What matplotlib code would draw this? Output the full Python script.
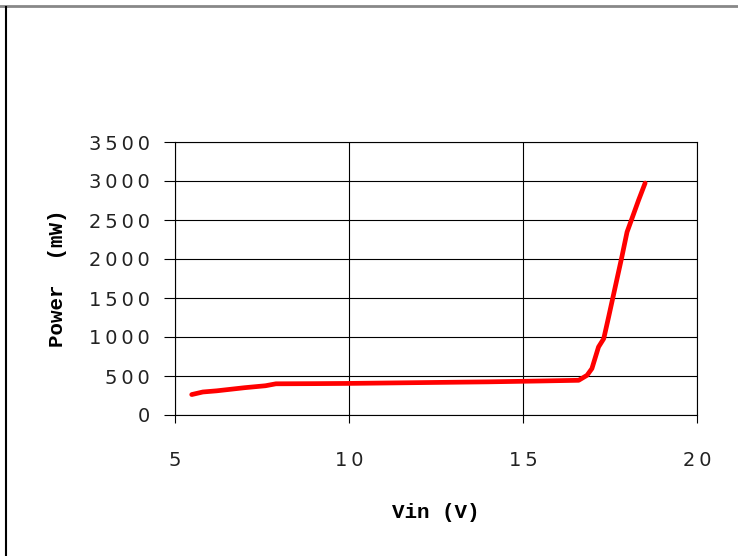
import matplotlib
matplotlib.use("Agg")
import matplotlib.pyplot as plt
from matplotlib.lines import Line2D

vin = [5.48, 5.8, 6.2, 7.0, 7.6, 7.9, 9.0, 10.0, 12.0, 14.0, 15.5, 16.6,
       16.84, 16.98, 17.17, 17.32, 17.46, 17.65, 17.84, 17.99, 18.13, 18.32, 18.51]
power = [262, 295, 310, 350, 375, 400, 402, 405, 415, 425, 436, 445,
         509, 595, 872, 979, 1256, 1641, 2026, 2346, 2518, 2753, 2974]

x_ticks = [5, 10, 15, 20]
y_ticks = [0, 500, 1000, 1500, 2000, 2500, 3000, 3500]

def spaced(v):
    return "\u2009".join(str(v))

W, H = 738, 556
fig = plt.figure(figsize=(W / 100, H / 100), dpi=100)
ax = fig.add_axes([175 / W, 1 - 415 / H, (697 - 175) / W, (415 - 142) / H])

ax.plot(vin, power, color="#ff0000", linewidth=3.4, solid_capstyle="round",
        solid_joinstyle="round", zorder=3)

ax.set_xlim(5, 20)
ax.set_ylim(0, 3500)
ax.set_xticks(x_ticks)
ax.set_yticks(y_ticks)
ax.set_xticklabels([spaced(v) for v in x_ticks], fontsize=14, family="DejaVu Sans", color="#222222")
ax.set_yticklabels([spaced(v) for v in y_ticks], fontsize=14, family="DejaVu Sans", color="#222222")
ax.tick_params(axis="x", direction="out", length=6, width=0.8, pad=20)
ax.tick_params(axis="y", direction="out", length=8, width=0.8, pad=10)
ax.grid(True, color="black", linewidth=0.8)
for s in ax.spines.values():
    s.set_color("black")
    s.set_linewidth(0.8)

ax.set_ylabel("Power  (mW)", fontsize=15, family="Liberation Mono", fontweight="bold")
ax.yaxis.set_label_coords(-0.2075, 0.5)
ax.set_xlabel("Vin (V)", fontsize=15, family="Liberation Mono", fontweight="bold")
ax.xaxis.set_label_coords(0.5, -0.322)

# outer frame
fig.add_artist(Line2D([0, 1], [1 - 6 / H, 1 - 6 / H], transform=fig.transFigure,
                      color="#888888", linewidth=2.0))
fig.add_artist(Line2D([6.5 / W, 6.5 / W], [0, 1 - 7 / H], transform=fig.transFigure,
                      color="black", linewidth=1.5))

fig.savefig("out.png", dpi=100)
